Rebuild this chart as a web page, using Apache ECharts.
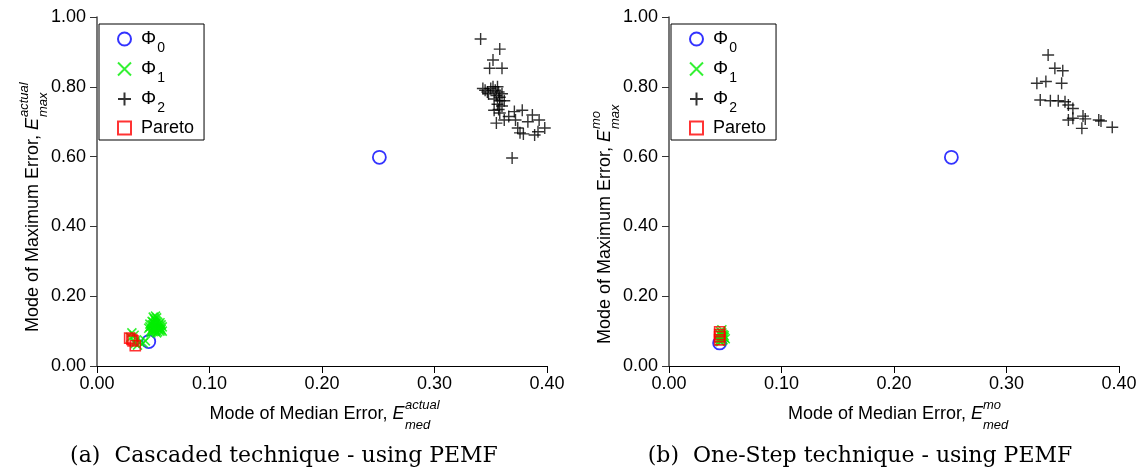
<!DOCTYPE html>
<html>
<head>
<meta charset="utf-8">
<script src="https://cdn.jsdelivr.net/npm/echarts@6/dist/echarts.min.js"></script>
<style>
html,body{margin:0;padding:0;background:#fff;}
#chart{width:1141px;height:476px;}
</style>
</head>
<body>
<div id="chart"></div>
<script>
// ---------- data ----------
const seriesNames = ['Φ0', 'Φ1', 'Φ2', 'Pareto'];

const leftPhi0 = [[0.251, 0.598], [0.046, 0.070]];
const leftPhi1 = [
  [0.048,0.100],[0.049,0.105],[0.050,0.110],[0.051,0.115],[0.052,0.120],[0.053,0.112],
  [0.054,0.108],[0.055,0.115],[0.056,0.110],[0.057,0.105],[0.058,0.112],[0.050,0.125],
  [0.052,0.130],[0.053,0.138],[0.051,0.135],[0.054,0.125],[0.055,0.120],[0.049,0.118],
  [0.047,0.112],[0.046,0.108],[0.048,0.095],[0.050,0.098],[0.052,0.100],[0.054,0.098],
  [0.056,0.100],[0.053,0.095],[0.051,0.104],[0.055,0.104],[0.057,0.118],[0.049,0.128],
  [0.047,0.120],[0.056,0.124],[0.053,0.128],[0.050,0.140],[0.052,0.143],[0.058,0.100],
  [0.031,0.095],[0.033,0.088],[0.030,0.082],[0.035,0.075],[0.038,0.068],[0.041,0.066],
  [0.043,0.072],[0.036,0.060],[0.034,0.065]
];
const leftPhi2 = [
  [0.341,0.937],[0.358,0.908],[0.352,0.877],[0.349,0.853],[0.360,0.853],
  [0.343,0.795],[0.345,0.790],[0.347,0.785],[0.350,0.795],[0.352,0.800],[0.354,0.790],
  [0.356,0.800],[0.357,0.785],[0.355,0.775],[0.358,0.770],[0.360,0.780],[0.358,0.760],
  [0.348,0.780],[0.353,0.765],[0.356,0.750],[0.360,0.745],[0.362,0.760],[0.357,0.735],
  [0.353,0.733],[0.358,0.725],[0.362,0.705],[0.355,0.696],[0.371,0.729],[0.378,0.733],
  [0.366,0.715],[0.372,0.705],[0.374,0.682],[0.376,0.668],[0.379,0.665],[0.387,0.719],
  [0.393,0.705],[0.401,0.708],[0.398,0.682],[0.392,0.671],[0.389,0.662],[0.383,0.700],
  [0.369,0.596]
];
const leftPareto = [[0.029,0.080],[0.031,0.076],[0.032,0.072],[0.034,0.058]];

const rightPhi0 = [[0.251, 0.598], [0.045, 0.066]];
const rightPhi1 = [
  [0.045,0.072],[0.046,0.078],[0.047,0.085],[0.045,0.092],[0.046,0.098],[0.047,0.104],
  [0.048,0.090],[0.049,0.082],[0.050,0.078],[0.048,0.075],[0.046,0.088],[0.047,0.095],
  [0.045,0.080],[0.049,0.087],[0.046,0.070]
];
const rightPhi2 = [
  [0.337,0.891],[0.343,0.853],[0.350,0.846],[0.327,0.810],[0.335,0.815],[0.349,0.810],
  [0.330,0.762],[0.339,0.760],[0.346,0.760],[0.352,0.757],[0.355,0.748],[0.359,0.738],
  [0.355,0.705],[0.359,0.710],[0.368,0.716],[0.370,0.708],[0.367,0.681],[0.382,0.705],
  [0.384,0.702],[0.394,0.684]
];
const rightPareto = [[0.045,0.098],[0.045,0.090],[0.045,0.084],[0.045,0.075]];

const xMin = 0, xMax = 0.4, xStep = 0.1;
const yMin = 0, yMax = 1.0, yStep = 0.2;

// ---------- styling ----------
const FONT = '"Liberation Sans", Arial, sans-serif';
const SERIF = '"DejaVu Serif", "Liberation Serif", serif';
const PLUS = 'path://M5,0V10M0,5H10';
const CROSS = 'path://M0,0L10,10M10,0L0,10';

const styles = {
  'Φ0': {symbol: 'circle', symbolSize: 13, itemStyle: {color: 'rgba(0,0,0,0)', borderColor: '#0000ff', borderWidth: 1.8}},
  'Φ1': {symbol: CROSS, symbolSize: 9, itemStyle: {color: 'rgba(0,0,0,0)', borderColor: '#00ee00', borderWidth: 1.6}},
  'Φ2': {symbol: PLUS, symbolSize: 12, itemStyle: {color: 'rgba(0,0,0,0)', borderColor: '#000000', borderWidth: 1.4}},
  'Pareto': {symbol: 'rect', symbolSize: 10, itemStyle: {color: 'rgba(0,0,0,0)', borderColor: '#ff0000', borderWidth: 1.6}}
};

function mk(name, data, idx) {
  const s = styles[name];
  return {
    type: 'scatter', name: name, data: data,
    xAxisIndex: idx, yAxisIndex: idx,
    symbol: s.symbol, symbolSize: s.symbolSize, symbolKeepAspect: true,
    itemStyle: s.itemStyle, silent: true, animation: false
  };
}

function xAxis(idx) {
  return {
    type: 'value', gridIndex: idx, min: xMin, max: xMax, interval: xStep,
    splitLine: {show: false},
    axisLine: {show: true, onZero: false, lineStyle: {color: '#000', width: 1}},
    axisTick: {show: true, length: 7, lineStyle: {color: '#000'}},
    axisLabel: {color: '#000', fontFamily: FONT, fontSize: 18, margin: 9, formatter: v => v.toFixed(2)}
  };
}
function yAxis(idx) {
  return {
    type: 'value', gridIndex: idx, min: yMin, max: yMax, interval: yStep,
    splitLine: {show: false},
    axisLine: {show: true, onZero: false, lineStyle: {color: '#555', width: 1.6}},
    axisTick: {show: true, length: 7, lineStyle: {color: '#333'}},
    axisLabel: {color: '#000', fontFamily: FONT, fontSize: 18, margin: 11, formatter: v => v.toFixed(2)}
  };
}

function legend(left) {
  return {
    orient: 'vertical', left: left, top: 24,
    data: seriesNames,
    backgroundColor: '#fff', borderColor: '#000', borderWidth: 1,
    padding: [5, 10, 3, 18], itemGap: 4, itemWidth: 13, itemHeight: 13,
    selectedMode: false,
    formatter: n => n === 'Pareto' ? '{t|Pareto}' : '{p|Φ}{s|' + n.slice(1) + '}',
    textStyle: {
      color: '#000', fontFamily: FONT, fontSize: 18,
      rich: {
        t: {fontSize: 18, fontFamily: FONT, color: '#000', lineHeight: 22, padding: [0, 0, 0, 5]},
        p: {fontSize: 19, fontFamily: FONT, color: '#000', verticalAlign: 'top', lineHeight: 20, padding: [0, 0, 0, 5]},
        s: {fontSize: 14, fontFamily: FONT, color: '#000', verticalAlign: 'top', lineHeight: 14, padding: [12, 0, 0, 1]}
      }
    }
  };
}

function txt(x, y, text, opt) {
  return {
    type: 'text', x: x, y: y, silent: true,
    style: Object.assign({text: text, fill: '#000', font: '18px ' + FONT, textVerticalAlign: 'middle'}, opt || {})
  };
}
// rotated text reading bottom-to-top; 'right' = ends at anchor (extends downward), 'left' = starts at anchor (extends upward)
function rtxt(x, y, text, opt) {
  const t = txt(x, y, text, opt);
  t.rotation = Math.PI / 2;
  return t;
}

const graphics = [
  // left x title
  txt(392.5, 414, 'Mode of Median Error, ', {textAlign: 'right'}),
  txt(392.5, 414, 'E', {textAlign: 'left', font: 'italic 18px ' + FONT}),
  txt(405, 405, 'actual', {textAlign: 'left', font: 'italic 13px ' + FONT}),
  txt(405, 425, 'med', {textAlign: 'left', font: 'italic 13px ' + FONT}),
  // right x title
  txt(971, 414, 'Mode of Median Error, ', {textAlign: 'right'}),
  txt(971, 414, 'E', {textAlign: 'left', font: 'italic 18px ' + FONT}),
  txt(983, 405, 'mo', {textAlign: 'left', font: 'italic 13px ' + FONT}),
  txt(983, 425, 'med', {textAlign: 'left', font: 'italic 13px ' + FONT}),
  // left y title
  rtxt(33, 130, 'Mode of Maximum Error, ', {textAlign: 'right'}),
  rtxt(33, 130, 'E', {textAlign: 'left', font: 'italic 18px ' + FONT}),
  rtxt(24, 117, 'actual', {textAlign: 'left', font: 'italic 13px ' + FONT}),
  rtxt(43, 117, 'max', {textAlign: 'left', font: 'italic 13px ' + FONT}),
  // right y title
  rtxt(605, 142, 'Mode of Maximum Error, ', {textAlign: 'right'}),
  rtxt(605, 142, 'E', {textAlign: 'left', font: 'italic 18px ' + FONT}),
  rtxt(596, 129, 'mo', {textAlign: 'left', font: 'italic 13px ' + FONT}),
  rtxt(615, 129, 'max', {textAlign: 'left', font: 'italic 13px ' + FONT}),
  // captions
  txt(284, 456, '(a)  Cascaded technique - using PEMF', {textAlign: 'center', font: '22px ' + SERIF}),
  txt(860, 456, '(b)  One-Step technique - using PEMF', {textAlign: 'center', font: '22px ' + SERIF})
];

const chart = echarts.init(document.getElementById('chart'), null, {renderer: 'canvas'});
chart.setOption({
  animation: false,
  backgroundColor: '#fff',
  grid: [
    {left: 97, right: 594, top: 17, bottom: 110},
    {left: 669, right: 22, top: 17, bottom: 110}
  ],
  xAxis: [xAxis(0), xAxis(1)],
  yAxis: [yAxis(0), yAxis(1)],
  legend: [legend(99), legend(671)],
  series: [
    mk('Φ0', leftPhi0, 0), mk('Φ1', leftPhi1, 0), mk('Φ2', leftPhi2, 0), mk('Pareto', leftPareto, 0),
    mk('Φ0', rightPhi0, 1), mk('Φ1', rightPhi1, 1), mk('Φ2', rightPhi2, 1), mk('Pareto', rightPareto, 1)
  ],
  graphic: graphics
});
</script>
</body>
</html>
